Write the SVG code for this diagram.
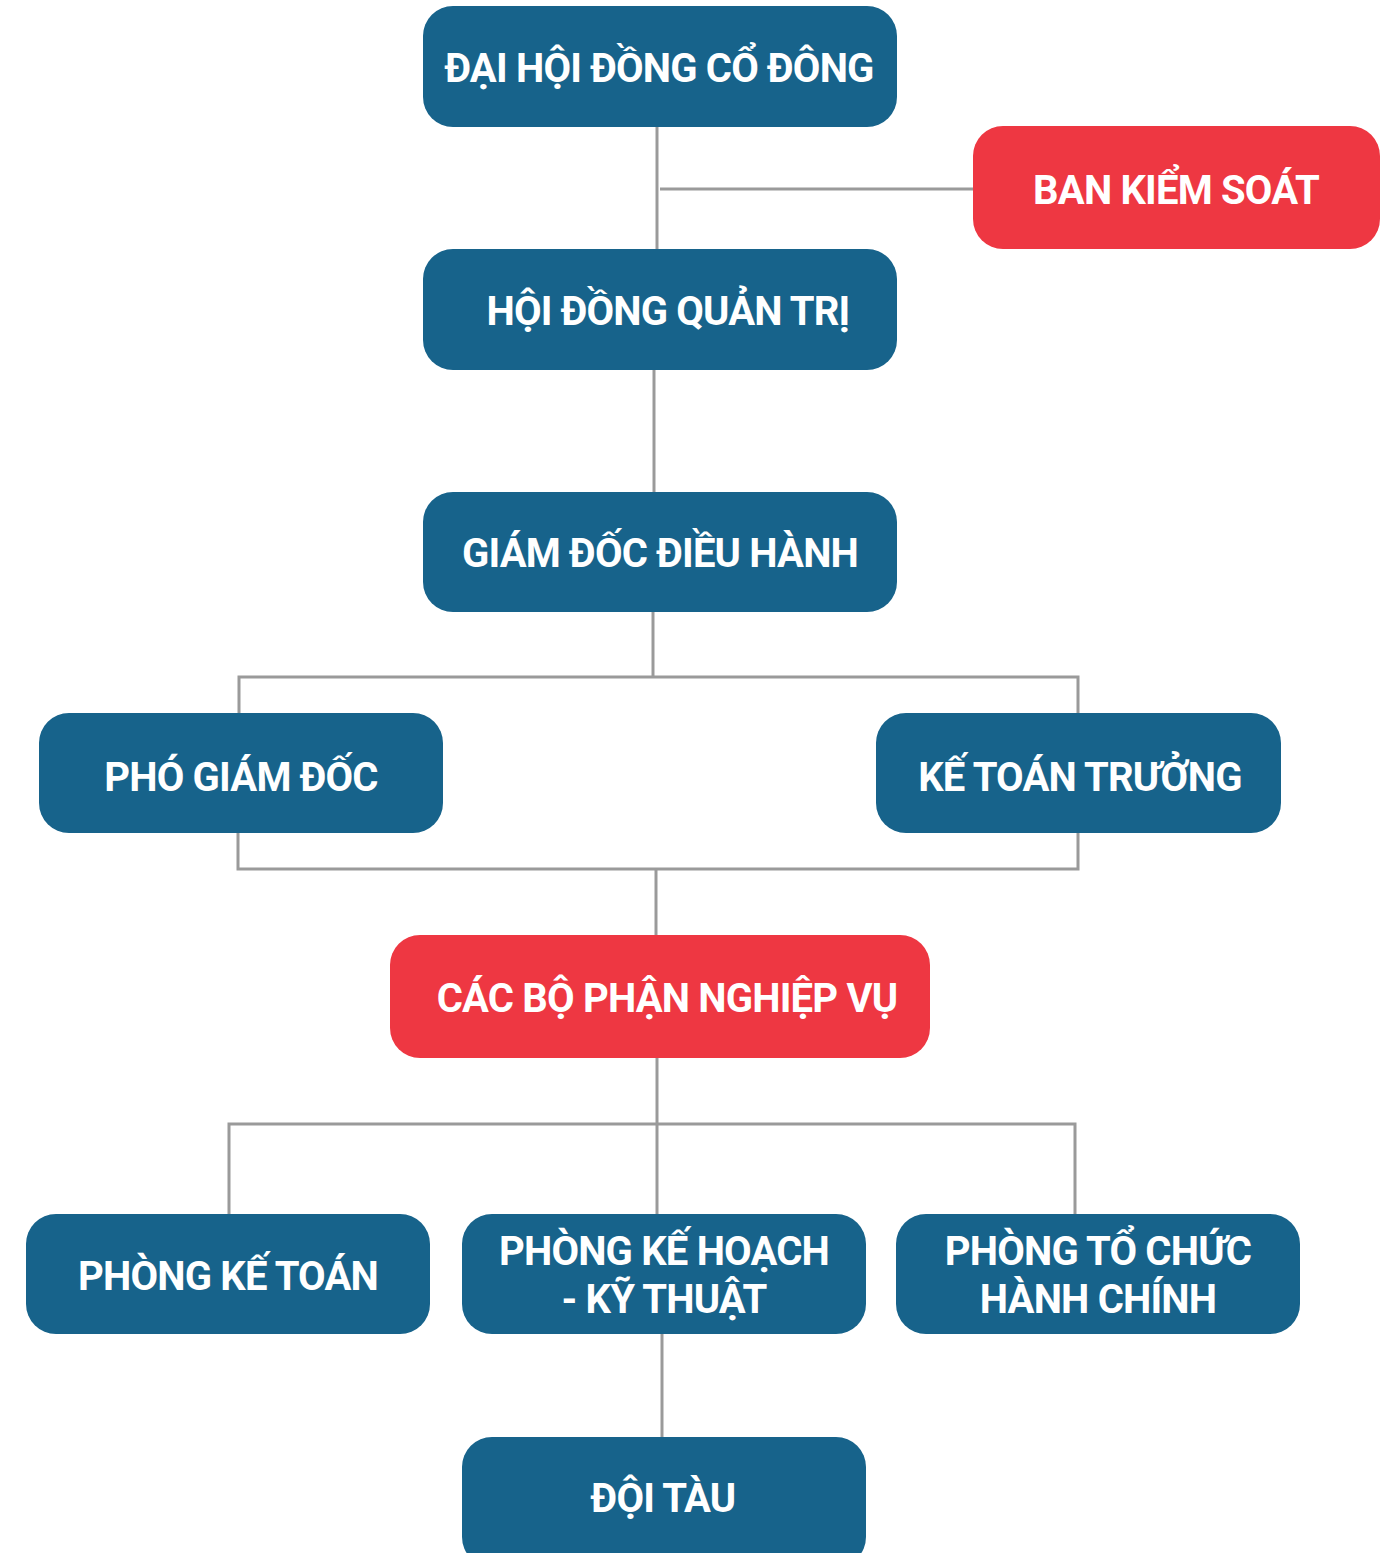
<svg xmlns="http://www.w3.org/2000/svg" width="1388" height="1553" viewBox="0 0 1388 1553">
<style>
.b{fill:#17638B}
.r{fill:#EE3742}
.t{font-family:Roboto,"Liberation Sans",sans-serif;font-weight:bold;font-size:40px;letter-spacing:-0.8px;fill:#fff;text-anchor:middle}
.c{stroke:#9A9A9A;stroke-width:3;fill:none}
</style>
<rect width="1388" height="1553" fill="#fff"/>
<g id="connectors" class="c">
<path d="M657 127V250"/>
<path d="M660 189H973"/>
<path d="M654 370V492"/>
<path d="M653 612V677"/>
<path d="M239 713V677H1078V713"/>
<path d="M238 833V869H1078V833"/>
<path d="M656 869V935"/>
<path d="M657 1058V1214"/>
<path d="M229 1214V1124H1075V1214"/>
<path d="M662 1334V1437"/>
</g>
<g id="n1"><rect class="b" x="423" y="6" width="474" height="121" rx="30"/><text class="t" x="659" y="82">ĐẠI HỘI ĐỒNG CỔ ĐÔNG</text></g>
<g id="n2"><rect class="r" x="973" y="126" width="407" height="123" rx="30"/><text class="t" x="1176" y="204">BAN KIỂM SOÁT</text></g>
<g id="n3"><rect class="b" x="423" y="249" width="474" height="121" rx="30"/><text class="t" x="668" y="325">HỘI ĐỒNG QUẢN TRỊ</text></g>
<g id="n4"><rect class="b" x="423" y="492" width="474" height="120" rx="30"/><text class="t" x="660" y="567">GIÁM ĐỐC ĐIỀU HÀNH</text></g>
<g id="n5"><rect class="b" x="39" y="713" width="404" height="120" rx="30"/><text class="t" x="241" y="791">PHÓ GIÁM ĐỐC</text></g>
<g id="n6"><rect class="b" x="876" y="713" width="405" height="120" rx="30"/><text class="t" x="1080" y="791">KẾ TOÁN TRƯỞNG</text></g>
<g id="n7"><rect class="r" x="390" y="935" width="540" height="123" rx="30"/><text class="t" x="667" y="1012">CÁC BỘ PHẬN NGHIỆP VỤ</text></g>
<g id="n8"><rect class="b" x="26" y="1214" width="404" height="120" rx="30"/><text class="t" x="228" y="1290">PHÒNG KẾ TOÁN</text></g>
<g id="n9"><rect class="b" x="462" y="1214" width="404" height="120" rx="30"/><text class="t" x="664" y="1265">PHÒNG KẾ HOẠCH</text><text class="t" x="664" y="1313">- KỸ THUẬT</text></g>
<g id="n10"><rect class="b" x="896" y="1214" width="404" height="120" rx="30"/><text class="t" x="1098" y="1265">PHÒNG TỔ CHỨC</text><text class="t" x="1098" y="1313">HÀNH CHÍNH</text></g>
<g id="n11"><rect class="b" x="462" y="1437" width="404" height="130" rx="30"/><text class="t" x="663" y="1512">ĐỘI TÀU</text></g>
</svg>
